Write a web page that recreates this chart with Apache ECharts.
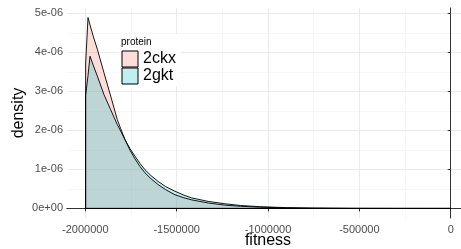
<!DOCTYPE html>
<html>
<head>
<meta charset="utf-8">
<script src="https://cdn.jsdelivr.net/npm/echarts@6/dist/echarts.min.js"></script>
<style>
html, body { margin: 0; padding: 0; background: #fff; }
#chart { width: 461px; height: 249px; }
</style>
</head>
<body>
<div id="chart"></div>
<script>
// fitness positions (shared by both density curves)
var fitness = [-1998000, -1998000, -1985000, -1974000, -1955000, -1934000, -1898000, -1861000,
  -1825000, -1806000, -1783000, -1755000, -1728000, -1700000, -1673000, -1640000, -1601000,
  -1560000, -1509000, -1460000, -1418000, -1327000, -1236000, -1150000, -1045000, -900000,
  -771000, -550000, -300000, 0];
// densities, in units of 1e-06
var ckx = [0, 3.7, 4.89, 4.70, 4.39, 4.08, 3.48, 2.88, 2.28, 2.04, 1.77, 1.49, 1.27, 1.07, 0.91,
  0.76, 0.61, 0.48, 0.35, 0.272, 0.22, 0.14, 0.085, 0.055, 0.032, 0.014, 0.006, 0.0015, 0.0003, 0];
var gkt = [0, 2.9, 3.4, 3.90, 3.65, 3.39, 2.92, 2.53, 2.15, 1.98, 1.76, 1.53, 1.34, 1.15, 0.99,
  0.84, 0.69, 0.56, 0.44, 0.34, 0.27, 0.18, 0.12, 0.075, 0.045, 0.02, 0.009, 0.002, 0.0004, 0];

var xTicks = [-2000000, -1500000, -1000000, -500000, 0];
var xMinor = [-1750000, -1250000, -750000, -250000];
var yTicks = [0, 1e-6, 2e-6, 3e-6, 4e-6, 5e-6];
var yMinor = [0.5e-6, 1.5e-6, 2.5e-6, 3.5e-6, 4.5e-6];

var font = 'Liberation Sans, Arial, sans-serif';
var border = { show: true, lineStyle: { color: '#333', width: 1 } };

function toPoints(vals) {
  var pts = fitness.map(function (x, i) { return [x, vals[i] * 1e-6]; });
  pts.push([fitness[0], 0]); // close the outline along the baseline
  return pts;
}

function sciLabel(v) {
  var s = Number(v).toExponential(0);
  return s.replace(/e([+-])(\d)$/, 'e$10$2');
}

var chart = echarts.init(document.getElementById('chart'));
var option = {
  animation: false,
  backgroundColor: '#fff',
  title: {
    text: 'protein', left: 121, top: 37, padding: 0,
    textStyle: { fontSize: 10, fontWeight: 'normal', color: '#000', fontFamily: font }
  },
  legend: {
    orient: 'vertical', left: 119, top: 34,
    padding: [16.5, 5, 2, 2.5], itemGap: 0,
    backgroundColor: '#fff',
    icon: 'rect', itemWidth: 16, itemHeight: 16,
    itemStyle: { borderColor: '#000', borderWidth: 1 },
    textStyle: { fontSize: 16, color: '#000', fontFamily: font },
    data: [
      { name: '2ckx', itemStyle: { color: 'rgba(248,118,109,0.25)' } },
      { name: '2gkt', itemStyle: { color: 'rgba(0,191,196,0.25)' } }
    ]
  },
  grid: {
    left: 67, right: -8, top: 8, bottom: 31,
    containLabel: false, outerBoundsMode: 'none',
    show: false
  },
  xAxis: [
    {
      type: 'value', min: -2100000, max: 100000, position: 'bottom',
      axisLine: border,
      axisTick: { show: true, customValues: xTicks, length: 3, lineStyle: { color: '#333' } },
      axisLabel: {
        customValues: xTicks, color: '#4D4D4D', fontSize: 11, margin: 6, fontFamily: font,
        formatter: function (v) { return String(v); }
      },
      splitLine: { show: true, lineStyle: { color: '#EBEBEB', width: 1 } },
      name: 'fitness', nameLocation: 'middle', nameGap: 15, nameMoveOverlap: false,
      nameTextStyle: { fontSize: 16, color: '#000', fontFamily: font }
    },
    {
      // minor grid + top edge of the panel
      type: 'value', min: -2100000, max: 100000, position: 'top',
      axisLine: border,
      axisTick: { show: false, customValues: xMinor },
      axisLabel: { show: false, customValues: xMinor },
      splitLine: { show: true, lineStyle: { color: '#F2F2F2', width: 0.6 } }
    }
  ],
  yAxis: [
    {
      type: 'value', min: -0.245e-6, max: 5.135e-6, position: 'left',
      axisLine: border,
      axisTick: { show: true, customValues: yTicks, length: 3, lineStyle: { color: '#333' } },
      axisLabel: {
        customValues: yTicks, color: '#4D4D4D', fontSize: 11, margin: 4, fontFamily: font,
        formatter: sciLabel
      },
      splitLine: { show: true, lineStyle: { color: '#EBEBEB', width: 1 } },
      name: 'density', nameLocation: 'middle', nameGap: 40, nameMoveOverlap: false,
      nameTextStyle: { fontSize: 16, color: '#000', fontFamily: font }
    },
    {
      type: 'value', min: -0.245e-6, max: 5.135e-6, position: 'left',
      axisLine: { show: false },
      axisTick: { show: false, customValues: yMinor },
      axisLabel: { show: false, customValues: yMinor },
      splitLine: { show: true, lineStyle: { color: '#F2F2F2', width: 0.6 } }
    }
  ],
  series: [
    {
      name: '2ckx', type: 'line', symbol: 'none',
      lineStyle: { color: '#000', width: 0.9 },
      areaStyle: { color: '#F8766D', opacity: 0.25 },
      data: toPoints(ckx)
    },
    {
      name: '2gkt', type: 'line', symbol: 'none',
      lineStyle: { color: '#000', width: 0.9 },
      areaStyle: { color: '#00BFC4', opacity: 0.25 },
      data: toPoints(gkt)
    }
  ]
};
chart.setOption(option);
</script>
</body>
</html>
